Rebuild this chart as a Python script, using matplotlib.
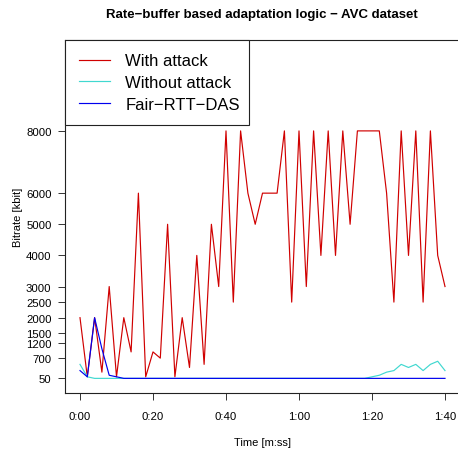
import matplotlib
matplotlib.use('Agg')
import matplotlib.pyplot as plt

plt.rcParams['font.family'] = ['Liberation Sans', 'DejaVu Sans']

# time in seconds, one sample every 2 s
times = list(range(0, 101, 2))

with_attack = [2000, 100, 2000, 250, 3000, 100, 2000, 900, 6000, 100,
               900, 700, 5000, 100, 2000, 400, 4000, 500, 5000, 3000,
               8000, 2500, 8000, 6000, 5000, 6000, 6000, 6000, 8000, 2500,
               8000, 3000, 8000, 4000, 8000, 4000, 8000, 5000, 8000, 8000,
               8000, 8000, 6000, 2500, 8000, 4000, 8000, 2500, 8000, 4000,
               3000]

without_attack = [500, 100] + [50] * 38 + [100, 150, 250, 300, 500, 400,
                                           500, 300, 500, 600, 300]

fair_rtt_das = [300, 100, 2000, 1000, 150, 100] + [50] * 45

y_ticks = [50, 700, 1200, 1500, 2000, 2500, 3000, 4000, 5000, 6000, 8000]
x_ticks = [0, 20, 40, 60, 80, 100]
x_labels = ['0:00', '0:20', '0:40', '1:00', '1:20', '1:40']

W, H = 458, 452
ax_w, ax_h = 394.2, 353
fig = plt.figure(figsize=(W / 100, H / 100), dpi=100)
ax = fig.add_axes([65.4 / W, 1 - 394 / H, ax_w / W, ax_h / H])

ax.plot(times, with_attack, color='#D00000', lw=0.85, label='With attack')
ax.plot(times, without_attack, color='#40D8D0', lw=0.85, label='Without attack')
ax.plot(times, fair_rtt_das, color='#0000EE', lw=0.85, label='Fair\u2212RTT\u2212DAS')

ax.set_xlim(-4, 104)
ax.set_ylim(-420, 10920)

ax.set_xticks(x_ticks)
ax.set_xticklabels(x_labels)
ax.set_yticks(y_ticks)
ax.set_yticklabels([str(v) for v in y_ticks])
ax.tick_params(axis='both', direction='out', length=5, width=0.7,
               labelsize=8.2, color='#333333')
ax.tick_params(axis='x', pad=8)
ax.tick_params(axis='y', pad=5)

for s in ax.spines.values():
    s.set_linewidth(0.8)
    s.set_color('#222222')

ax.set_xlabel('Time [m:ss]', fontsize=8, labelpad=11.5)
ax.set_ylabel('Bitrate [kbit]', fontsize=8, labelpad=2)

fig.text(262 / W, 1 - 15 / H,
         'Rate\u2212buffer based adaptation logic \u2212 AVC dataset',
         ha='center', va='center', fontsize=9.5, fontweight='bold')

# legend box: 184 x 82 px from the top left corner of the axes
leg = ax.legend(loc='upper left',
                bbox_to_anchor=(0, 1 - 82 / ax_h, 184 / ax_w, 82 / ax_h),
                mode='expand', borderaxespad=0,
                fontsize=12, frameon=True, fancybox=False,
                edgecolor='#222222', framealpha=1, handlelength=1.9,
                handletextpad=0.9, borderpad=0.8, labelspacing=0.4)
leg.get_frame().set_linewidth(0.8)

fig.savefig('out.png', dpi=100)
